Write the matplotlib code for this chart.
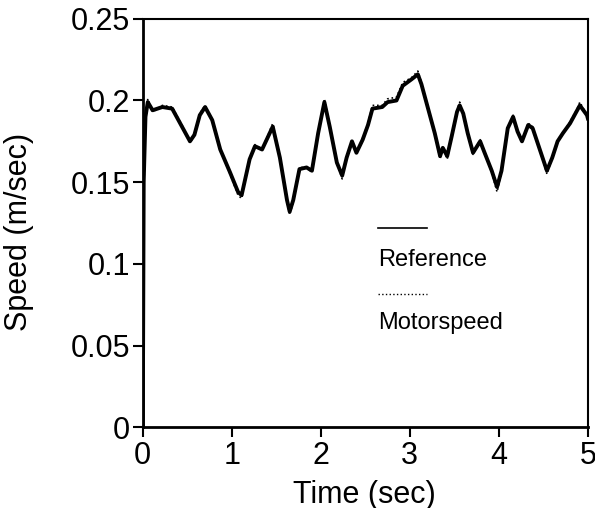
import matplotlib
matplotlib.use('Agg')
import matplotlib.pyplot as plt
from matplotlib.lines import Line2D

plt.rcParams['font.family'] = ['Liberation Sans', 'DejaVu Sans']

# time (sec) and speed (m/sec)
time = [0.0, 0.01, 0.03, 0.056, 0.11, 0.22, 0.33, 0.38, 0.45, 0.53, 0.58, 0.64, 0.70,
        0.78, 0.87, 0.98, 1.07, 1.11, 1.20, 1.26, 1.34, 1.40, 1.46, 1.54, 1.62, 1.65,
        1.69, 1.76, 1.84, 1.90, 1.97, 2.04, 2.10, 2.18, 2.24, 2.29, 2.35, 2.40, 2.47,
        2.53, 2.58, 2.69, 2.75, 2.85, 2.92, 3.02, 3.09, 3.13, 3.20, 3.28, 3.34, 3.37,
        3.42, 3.47, 3.53, 3.56, 3.60, 3.65, 3.71, 3.79, 3.84, 3.92, 3.98, 4.03, 4.10,
        4.16, 4.21, 4.26, 4.33, 4.38, 4.46, 4.54, 4.60, 4.66, 4.72, 4.80, 4.88, 4.91,
        4.99, 5.0]
reference = [0.0, 0.15, 0.19, 0.199, 0.194, 0.196, 0.195, 0.190, 0.183, 0.175, 0.179,
             0.191, 0.196, 0.188, 0.170, 0.156, 0.144, 0.142, 0.164, 0.172, 0.170, 0.177,
             0.184, 0.165, 0.139, 0.132, 0.139, 0.158, 0.159, 0.157, 0.180, 0.199, 0.184,
             0.162, 0.154, 0.165, 0.175, 0.168, 0.176, 0.185, 0.195, 0.196, 0.199, 0.200,
             0.209, 0.213, 0.216, 0.210, 0.196, 0.180, 0.166, 0.171, 0.166, 0.178, 0.193,
             0.197, 0.192, 0.180, 0.168, 0.175, 0.168, 0.157, 0.147, 0.157, 0.183, 0.190,
             0.181, 0.175, 0.185, 0.183, 0.170, 0.157, 0.165, 0.175, 0.180, 0.186, 0.194,
             0.197, 0.191, 0.189]
motorspeed = [0.0, 0.14, 0.188, 0.201, 0.193, 0.197, 0.196, 0.191, 0.184, 0.174, 0.179,
              0.192, 0.197, 0.188, 0.170, 0.155, 0.142, 0.140, 0.164, 0.173, 0.170, 0.178,
              0.186, 0.165, 0.138, 0.130, 0.138, 0.159, 0.159, 0.156, 0.180, 0.201, 0.184,
              0.162, 0.152, 0.165, 0.176, 0.168, 0.177, 0.186, 0.197, 0.197, 0.201, 0.202,
              0.211, 0.214, 0.218, 0.211, 0.196, 0.180, 0.164, 0.172, 0.164, 0.178, 0.194,
              0.199, 0.192, 0.180, 0.167, 0.176, 0.168, 0.156, 0.144, 0.156, 0.184, 0.191,
              0.181, 0.175, 0.186, 0.184, 0.170, 0.155, 0.165, 0.176, 0.180, 0.187, 0.195,
              0.199, 0.191, 0.189]

xticks = [0, 1, 2, 3, 4, 5]
yticks = [0, 0.05, 0.1, 0.15, 0.2, 0.25]
ytick_labels = ['0', '0.05', '0.1', '0.15', '0.2', '0.25']

fig = plt.figure(figsize=(5.95, 5.08), dpi=100)
ax = fig.add_axes([0.240, 0.159, 0.748, 0.804])

ax.plot(time, reference, color='black', lw=2.8, solid_joinstyle='round')
ax.plot(time, motorspeed, color='black', lw=1.2, linestyle=':')

ax.set_xlim(0, 5)
ax.set_ylim(0, 0.25)
ax.set_xticks(xticks)
ax.set_yticks(yticks)
ax.set_yticklabels(ytick_labels)
ax.tick_params(direction='out', length=7, width=1.5, labelsize=22, pad=2,
               top=False, right=False)
ax.tick_params(axis='x', pad=3)
for s in ax.spines.values():
    s.set_linewidth(1.5)
ax.spines['left'].set_linewidth(2)
ax.spines['bottom'].set_linewidth(2)

ax.set_xlabel('Time (sec)', fontsize=22, va='top')
ax.xaxis.set_label_coords(0.498, -0.128)
ax.set_ylabel('Speed (m/sec)', fontsize=22)
ax.yaxis.set_label_coords(-0.245, 0.479)

# legend: sample line above its label
ax.add_line(Line2D([0.528, 0.638], [0.488, 0.488], transform=ax.transAxes,
                   color='black', lw=1.2))
ax.text(0.528, 0.409, 'Reference', transform=ax.transAxes, fontsize=17, va='center')
ax.add_line(Line2D([0.528, 0.638], [0.326, 0.326], transform=ax.transAxes,
                   color='black', lw=1.0, linestyle=':'))
ax.text(0.528, 0.255, 'Motorspeed', transform=ax.transAxes, fontsize=17, va='center')

plt.savefig('out.png', dpi=100)
plt.close()
